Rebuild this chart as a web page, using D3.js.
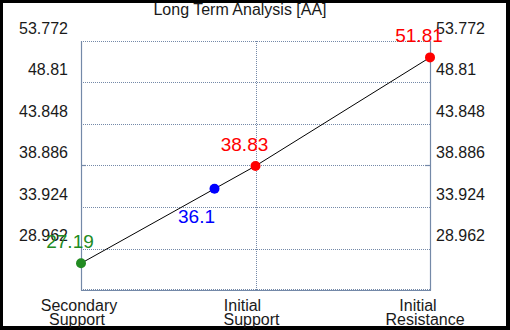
<!DOCTYPE html>
<html><head><meta charset="utf-8">
<script src="https://cdn.jsdelivr.net/npm/d3@7"></script>
<style>html,body{margin:0;padding:0;background:#000;}svg{display:block;}</style>
</head><body>
<script>
const title = "Long Term Analysis [AA]";
const categories = ["Secondary Support", "Initial Support", "Initial Resistance"];
const tickValues = [28.962, 33.924, 38.886, 43.848, 48.81, 53.772];
const tickLabels = ["28.962", "33.924", "38.886", "43.848", "48.81", "53.772"];
const yMin = 24.0;
const pointValues = [27.19, 36.1, 38.83, 51.81];
const pointLabels = ["27.19", "36.1", "38.83", "51.81"];
const pointX = [0, 0.765, 1, 2];
const pointColors = ["#228b22", "#0000ff", "#ff0000", "#ff0000"];

(function () {
const W = 510, H = 330;
const font = "Arial, 'Liberation Sans', sans-serif";
const axisColor = "#7489a8";
const svg = d3.select("body").append("svg").attr("width", W).attr("height", H);
svg.append("rect").attr("width", W).attr("height", H).attr("fill", "#000");
svg.append("rect").attr("x", 3).attr("y", 3).attr("width", 503).attr("height", 323).attr("fill", "#fff");

const pl = 81, pr = 430, pt = 41, pb = 290;
const x = d3.scaleLinear().domain([0, categories.length - 1]).range([pl, pr]);
const y = d3.scaleLinear().domain([yMin, tickValues[tickValues.length - 1]]).range([pb, pt]);

const g = svg.append("g");
g.selectAll("line.hg").data([yMin].concat(tickValues)).join("line")
  .attr("x1", pl).attr("x2", pr)
  .attr("y1", d => Math.round(y(d)) - (d === yMin ? 1 : 0) + 0.5)
  .attr("y2", d => Math.round(y(d)) - (d === yMin ? 1 : 0) + 0.5)
  .attr("stroke", axisColor).attr("stroke-width", 1).attr("stroke-dasharray", "1,1");
g.selectAll("line.vg").data(d3.range(1, categories.length - 1)).join("line")
  .attr("x1", d => Math.round(x(d)) + 0.5).attr("x2", d => Math.round(x(d)) + 0.5)
  .attr("y1", pt).attr("y2", pb)
  .attr("stroke", axisColor).attr("stroke-dasharray", "1,1");
const ax = (x1, y1, x2, y2) => g.append("line").attr("x1", x1).attr("y1", y1).attr("x2", x2).attr("y2", y2)
  .attr("stroke", axisColor).attr("stroke-width", 1.2);
ax(pl + 0.5, pt, pl + 0.5, pb + 0.5);
ax(pr + 0.5, pt, pr + 0.5, pb + 0.5);
ax(pl, pb + 0.5, pr + 1, pb + 0.5);
const tk = Math.round(y(tickValues[2])) + 0.5;
ax(pl, tk, pl + 5, tk);
ax(pr - 5, tk, pr + 1, tk);

const yl = svg.append("g").attr("font-family", font).attr("font-size", 16).attr("fill", "#1a1a1a");
yl.selectAll("text.l").data(tickValues).join("text")
  .attr("x", 68).attr("y", d => y(d) - 7.5).attr("text-anchor", "end")
  .text((d, i) => tickLabels[i]);
yl.selectAll("text.r").data(tickValues).join("text")
  .attr("x", 436).attr("y", d => y(d) - 7.5).attr("text-anchor", "start")
  .text((d, i) => tickLabels[i]);

const lineDx = [[-2, -4], [-13, -4], [-12, -5]];
const xl = svg.append("g").attr("font-family", font).attr("font-size", 16).attr("fill", "#1a1a1a");
categories.forEach((c, i) => {
  const parts = c.split(" ");
  parts.forEach((p, j) => {
    xl.append("text").attr("x", x(i) + lineDx[i][j]).attr("y", 311 + j * 14)
      .attr("text-anchor", "middle").text(p);
  });
});

svg.append("text").attr("x", 240).attr("y", 15).attr("text-anchor", "middle")
  .attr("font-family", font).attr("font-size", 16).attr("fill", "#1a1a1a").text(title);

const pts = pointValues.map((v, i) => [x(pointX[i]), y(v)]);
svg.append("path").attr("d", d3.line()(pts)).attr("fill", "none").attr("stroke", "#000").attr("stroke-width", 1);
svg.selectAll("circle.p").data(pointValues).join("circle")
  .attr("cx", (d, i) => x(pointX[i])).attr("cy", d => y(d)).attr("r", 5)
  .attr("fill", (d, i) => pointColors[i]);
svg.selectAll("text.v").data(pointValues).join("text")
  .attr("x", (d, i) => x(pointX[i]) + (i === 1 ? -18 : -11))
  .attr("y", (d, i) => y(d) + (i === 1 ? 34 : -15))
  .attr("text-anchor", "middle").attr("font-family", font).attr("font-size", 19)
  .attr("fill", (d, i) => pointColors[i]).text((d, i) => pointLabels[i]);
})();
</script>
</body></html>
